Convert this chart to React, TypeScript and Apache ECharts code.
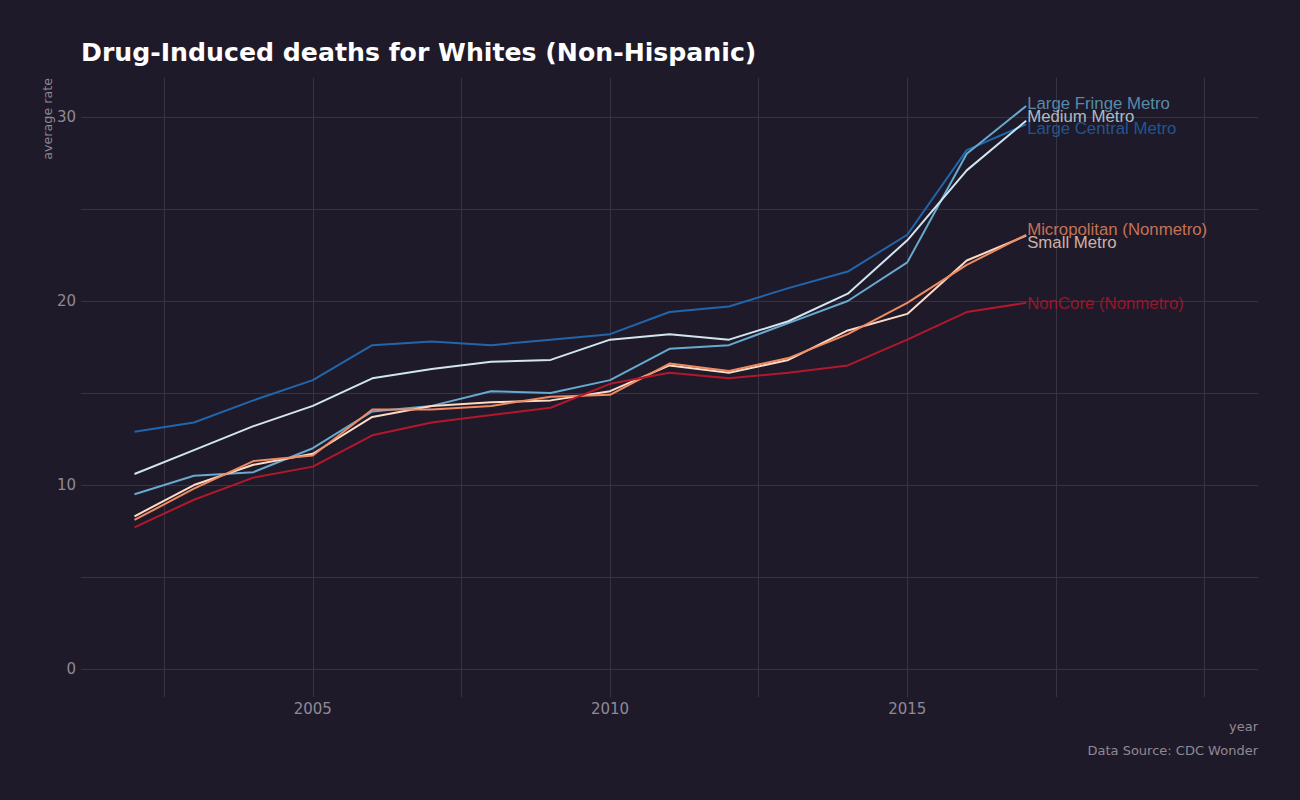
import React, { useEffect, useRef } from "react";
import * as echarts from "echarts";

const years = [2002, 2003, 2004, 2005, 2006, 2007, 2008, 2009, 2010, 2011, 2012, 2013, 2014, 2015, 2016, 2017];

const seriesNames = [
  "Large Central Metro",
  "Large Fringe Metro",
  "Medium Metro",
  "Small Metro",
  "Micropolitan (Nonmetro)",
  "NonCore (Nonmetro)",
];
const seriesColors = ["#2166ac", "#67a9cf", "#d1e5f0", "#fddbc7", "#ef8a62", "#b2182b"];

const largeCentral = [12.9, 13.4, 14.6, 15.7, 17.6, 17.8, 17.6, 17.9, 18.2, 19.4, 19.7, 20.7, 21.6, 23.6, 28.2, 29.6];
const largeFringe = [9.5, 10.5, 10.7, 12.0, 14.0, 14.3, 15.1, 15.0, 15.7, 17.4, 17.6, 18.8, 20.0, 22.1, 28.0, 30.6];
const mediumMetro = [10.6, 11.9, 13.2, 14.3, 15.8, 16.3, 16.7, 16.8, 17.9, 18.2, 17.9, 18.9, 20.4, 23.3, 27.1, 29.8];
const smallMetro = [8.3, 10.0, 11.1, 11.7, 13.7, 14.3, 14.5, 14.6, 15.1, 16.5, 16.1, 16.8, 18.4, 19.3, 22.2, 23.55];
const micropolitan = [8.1, 9.8, 11.3, 11.6, 14.1, 14.1, 14.3, 14.8, 14.9, 16.6, 16.2, 16.9, 18.2, 19.9, 21.96, 23.6];
const nonCore = [7.7, 9.2, 10.4, 11.0, 12.7, 13.4, 13.8, 14.2, 15.5, 16.1, 15.8, 16.1, 16.5, 17.9, 19.4, 19.9];

const seriesValues = [largeCentral, largeFringe, mediumMetro, smallMetro, micropolitan, nonCore];

// repelled label positions (data units) at the last year
const labelYear = 2017;
const labelY = [29.35, 30.71, 30.05, 23.2, 23.86, 19.89];

const xTickLabels = [2005, 2010, 2015];
const yTickLabels = [0, 10, 20, 30];
const xGrid = [2002.5, 2005, 2007.5, 2010, 2012.5, 2015, 2017.5, 2020];
const yGrid = [0, 5, 10, 15, 20, 25, 30];

const BG = "#1f1a29";
const GRID = "#38333f";
const MUTED = "#8f8996";

export default function App() {
  const ref = useRef<HTMLDivElement>(null);

  useEffect(() => {
    if (!ref.current) return;
    const chart = echarts.init(ref.current, null, { renderer: "svg" });

    const lineSeries: any[] = seriesNames.map((name, i) => ({
      name,
      type: "line",
      data: years.map((y, j) => [y, seriesValues[i][j]]),
      showSymbol: false,
      symbol: "none",
      lineStyle: { color: seriesColors[i], width: 2 },
      itemStyle: { color: seriesColors[i] },
      z: 3,
    }));

    lineSeries[0].markLine = {
      silent: true,
      symbol: "none",
      animation: false,
      label: { show: false },
      lineStyle: { color: GRID, width: 1, type: "solid" },
      data: [
        ...xGrid.map((v) => ({ xAxis: v })),
        ...yGrid.map((v) => ({ yAxis: v })),
      ],
      z: 1,
    };

    const labelSeries = seriesNames.map((name, i) => ({
      name: name + " label",
      type: "scatter",
      data: [[labelYear, labelY[i]]],
      symbolSize: 0,
      silent: true,
      z: 5,
      label: {
        show: true,
        position: "right",
        distance: 1,
        formatter: name,
        color: seriesColors[i],
        fontSize: 16.8,
        fontFamily: "Liberation Sans, Arial, sans-serif",
      },
    }));

    chart.setOption({
      animation: false,
      backgroundColor: BG,
      grid: { left: 81, right: 42, top: 78, bottom: 103, containLabel: false },
      xAxis: {
        type: "value",
        min: 2001.1,
        max: 2020.9,
        splitLine: { show: false },
        axisLine: { show: false },
        axisTick: { show: false },
        axisLabel: {
          customValues: xTickLabels,
          color: MUTED,
          fontSize: 15,
          fontFamily: "DejaVu Sans",
          margin: 4,
          formatter: (v: number) => String(v),
        },
      },
      yAxis: {
        type: "value",
        min: -1.52,
        max: 32.12,
        splitLine: { show: false },
        axisLine: { show: false },
        axisTick: { show: false },
        axisLabel: {
          customValues: yTickLabels,
          color: MUTED,
          fontSize: 15,
          fontFamily: "DejaVu Sans",
          margin: 5,
          formatter: (v: number) => String(v),
        },
      },
      graphic: [
        {
          type: "text",
          x: 81,
          y: 52,
          style: {
            text: "Drug-Induced deaths for Whites (Non-Hispanic)",
            fill: "#ffffff",
            fontSize: 25.2,
            fontWeight: "bold",
            fontFamily: "DejaVu Sans",
            textAlign: "left",
            textVerticalAlign: "middle",
          },
        },
        {
          type: "text",
          x: 47,
          y: 78,
          rotation: Math.PI / 2,
          style: {
            text: "average rate",
            fill: MUTED,
            fontSize: 12.7,
            fontFamily: "DejaVu Sans",
            textAlign: "right",
            textVerticalAlign: "middle",
          },
        },
        {
          type: "text",
          x: 1258,
          y: 726,
          style: {
            text: "year",
            fill: MUTED,
            fontSize: 13,
            fontFamily: "DejaVu Sans",
            textAlign: "right",
            textVerticalAlign: "middle",
          },
        },
        {
          type: "text",
          x: 1258,
          y: 750,
          style: {
            text: "Data Source: CDC Wonder",
            fill: MUTED,
            fontSize: 13,
            fontFamily: "DejaVu Sans",
            textAlign: "right",
            textVerticalAlign: "middle",
          },
        },
      ],
      series: [...lineSeries, ...labelSeries],
    });

    return () => chart.dispose();
  }, []);

  return (
    <div
      ref={ref}
      style={{ position: "fixed", left: 0, top: 0, width: 1300, height: 800 }}
    />
  );
}
